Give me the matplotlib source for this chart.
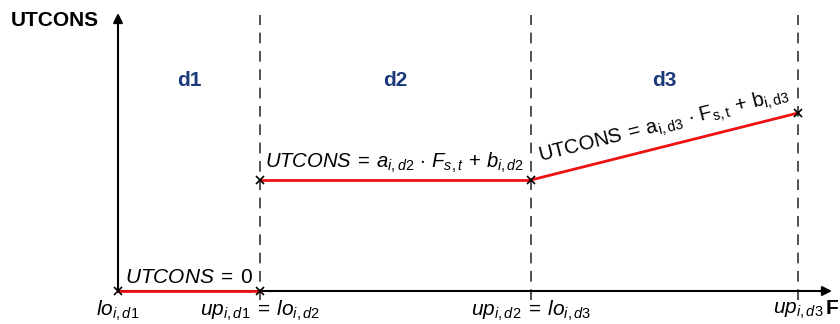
import matplotlib.pyplot as plt

plt.rcParams['font.family'] = 'Liberation Sans'
plt.rcParams['mathtext.fontset'] = 'custom'
plt.rcParams['mathtext.rm'] = 'Liberation Sans'
plt.rcParams['mathtext.it'] = 'Liberation Sans:italic'
plt.rcParams['mathtext.bf'] = 'Liberation Sans:bold'

# breakpoints of F (lo_d1, up_d1, up_d2, up_d3) and UTCONS at each segment end
bounds = [0, 142, 413, 680]
seg_x = [[0, 142], [142, 413], [413, 680]]
seg_y = [[0, 0], [111, 111], [111, 178]]
region_names = ['d1', 'd2', 'd3']
bound_labels = [r'$lo_{i,d1}$',
                r'$up_{i,d1}\:=\:lo_{i,d2}$',
                r'$up_{i,d2}\:=\:lo_{i,d3}$',
                r'$up_{i,d3}$']

fig = plt.figure(figsize=(8.4, 3.24), dpi=100)
ax = fig.add_axes([0, 0, 1, 1])
ax.set_xlim(-118, 722)
ax.set_ylim(-33, 291)
ax.axis('off')

# axes with arrow heads
ax.annotate('', xy=(714, 0), xytext=(0, 0),
            arrowprops=dict(arrowstyle='-|>', color='black', lw=1.5,
                            mutation_scale=14, shrinkA=0, shrinkB=0))
ax.annotate('', xy=(0, 278), xytext=(0, 0),
            arrowprops=dict(arrowstyle='-|>', color='black', lw=1.5,
                            mutation_scale=14, shrinkA=0, shrinkB=0))
ax.text(-63, 270, 'UTCONS', fontsize=15, fontweight='bold', ha='center', va='center')
ax.text(708, -18, 'F', fontsize=15, fontweight='bold', ha='left', va='center')

# region borders
for b in bounds[1:]:
    ax.plot([b, b], [-9, 276], color='#222222', lw=1.1, ls=(0, (7, 5)))

for b, lab in zip(bounds, bound_labels):
    ax.text(b, -20, lab, fontsize=15, ha='center', va='center')

for i, name in enumerate(region_names):
    mid = (bounds[i] + bounds[i + 1]) / 2
    ax.text(mid, 211, name, fontsize=15, fontweight='bold', color='#1c3a7a',
            ha='center', va='center')

# piecewise UTCONS
for xs, ys in zip(seg_x, seg_y):
    ax.plot(xs, ys, color='#ee1111', lw=2, zorder=3)
mx = [seg_x[0][0]] + [s[1] for s in seg_x] + [seg_x[1][0]]
my = [seg_y[0][0]] + [s[1] for s in seg_y] + [seg_y[1][0]]
ax.plot(mx, my, 'x', color='black', ms=6, mew=1.2, zorder=4)

ax.text(7, 8, r'$UTCONS\:=\:0$', fontsize=15, ha='left', va='baseline')
ax.text(147, 123, r'$UTCONS\:=\:a_{i,d2}\,\cdot\,F_{s,t}\,+\,b_{i,d2}$',
        fontsize=14.6, ha='left', va='baseline')
ax.text(422, 129,
        r'$\mathrm{UTCONS\:=\:a_{i,d3}\,\cdot\,F_{s,t}\,+\,b_{i,d3}}$',
        fontsize=14.5, ha='left', va='baseline', rotation=14.1,
        rotation_mode='anchor')

fig.savefig('out.png', dpi=100)
